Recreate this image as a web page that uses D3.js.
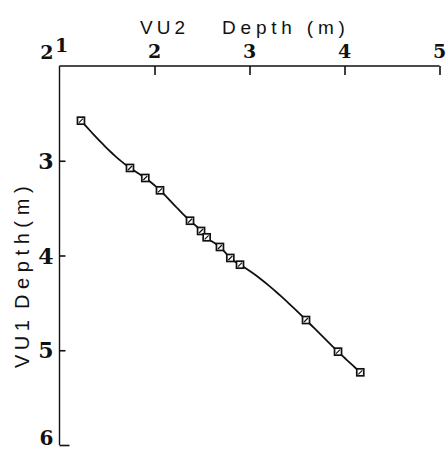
<!DOCTYPE html>
<html>
<head>
<meta charset="utf-8">
<script src="https://cdn.jsdelivr.net/npm/d3@7"></script>
<style>
  html, body { margin: 0; padding: 0; background: #fff; }
  svg { display: block; }
</style>
</head>
<body>
<svg id="chart" width="447" height="450"></svg>
<script>
// Depth at VU2 (horizontal) against depth at VU1 (vertical), metres
const vu2Depth = [1.226, 1.742, 1.903, 2.058, 2.374, 2.49, 2.549, 2.689, 2.798, 2.9, 3.595, 3.932, 4.166];
const vu1Depth = [2.577, 3.076, 3.182, 3.312, 3.633, 3.741, 3.808, 3.91, 4.026, 4.097, 4.681, 5.015, 5.233];
const xTicks = [1, 2, 3, 4, 5];
const yTicks = [2, 3, 4, 5, 6];
const xTitle = ["VU2", "Depth (m)"];
const yTitle = ["VU1", "Depth(m)"];

const svg = d3.select("#chart");
const x = d3.scaleLinear().domain([1, 5]).range([59.5, 439.5]);
const y = d3.scaleLinear().domain([2, 6]).range([66, 445]);

const ink = "#111";
const tickFont = "'DejaVu Serif', serif";
const titleFont = "'Liberation Sans', Arial, sans-serif";

// top axis: line, ticks pointing into the plot, bold numerals above
const xAxis = d3.axisBottom(x).tickValues(xTicks.slice(1)).tickSize(9).tickFormat("");
svg.append("g").attr("transform", `translate(0,${y(2)})`).call(xAxis)
  .call(g => g.select(".domain").attr("d", `M${x(1)},0H${x(5)}`).attr("stroke", ink).attr("stroke-width", 1.4))
  .call(g => g.selectAll(".tick line").attr("stroke", ink).attr("stroke-width", 1.6));

svg.append("g").selectAll("text").data(xTicks).join("text")
  .attr("x", d => x(d) + (d === 1 ? 2 : 0))
  .attr("y", d => d === 1 ? y(2) - 14 : y(2) - 8)
  .attr("text-anchor", "middle")
  .attr("font-family", tickFont).attr("font-weight", "bold").attr("font-size", 19)
  .attr("fill", ink)
  .text(d => d);

// left axis: line, short ticks pointing into the plot, bold numerals at left
const yAxis = d3.axisRight(y).tickValues(yTicks.slice(1)).tickSize(6).tickFormat("");
svg.append("g").attr("transform", `translate(${x(1)},0)`).call(yAxis)
  .call(g => g.select(".domain").attr("d", `M0,${y(2)}V${y(6)}`).attr("stroke", ink).attr("stroke-width", 1.4))
  .call(g => g.selectAll(".tick line").attr("stroke", ink).attr("stroke-width", 1.6))
  .call(g => g.selectAll(".tick").filter(d => d === 6).select("line").attr("x2", 10));

svg.append("g").selectAll("text").data(yTicks).join("text")
  .attr("x", x(1) - 6)
  .attr("y", d => d === 2 ? y(2) - 7 : d === 6 ? 445 : y(d) + 8)
  .attr("text-anchor", "end")
  .attr("font-family", tickFont).attr("font-weight", "bold")
  .attr("font-size", d => d === 2 ? 19 : d === 6 ? 20 : 22)
  .attr("fill", ink)
  .text(d => d);

// axis titles
const tTop = svg.append("text").attr("y", 34)
  .attr("font-family", titleFont).attr("font-size", 19).attr("fill", ink);
tTop.append("tspan").attr("x", 140).attr("letter-spacing", 4).text(xTitle[0]);
tTop.append("tspan").attr("x", 222).attr("letter-spacing", 4.8).text(xTitle[1]);

const tLeft = svg.append("text").attr("transform", "translate(29,0) rotate(-90)")
  .attr("font-family", titleFont).attr("font-size", 20).attr("fill", ink);
tLeft.append("tspan").attr("x", -368).attr("letter-spacing", 4.5).text(yTitle[0]);
tLeft.append("tspan").attr("x", -309).attr("letter-spacing", 5.6).text(yTitle[1]);

// smooth curve: natural cubic spline of VU1 depth as a function of VU2 depth
function naturalSpline(xs, ys) {
  const n = xs.length, h = [], a = [], b = [], c = [], r = [];
  for (let i = 0; i < n - 1; i++) h.push(xs[i + 1] - xs[i]);
  const M = new Array(n).fill(0);
  for (let i = 1; i < n - 1; i++) {
    a[i] = h[i - 1]; b[i] = 2 * (h[i - 1] + h[i]); c[i] = h[i];
    r[i] = 6 * ((ys[i + 1] - ys[i]) / h[i] - (ys[i] - ys[i - 1]) / h[i - 1]);
  }
  // Thomas algorithm for the interior second derivatives
  for (let i = 2; i < n - 1; i++) {
    const w = a[i] / b[i - 1];
    b[i] -= w * c[i - 1];
    r[i] -= w * r[i - 1];
  }
  for (let i = n - 2; i >= 1; i--) {
    M[i] = (r[i] - (i < n - 2 ? c[i] * M[i + 1] : 0)) / b[i];
  }
  const out = [];
  for (let i = 0; i < n - 1; i++) {
    const steps = 16;
    for (let s = 0; s <= steps; s++) {
      if (i > 0 && s === 0) continue;
      const t = xs[i] + h[i] * s / steps;
      const A = (xs[i + 1] - t) / h[i], B = (t - xs[i]) / h[i];
      const v = A * ys[i] + B * ys[i + 1] +
        ((A * A * A - A) * M[i] + (B * B * B - B) * M[i + 1]) * h[i] * h[i] / 6;
      out.push([t, v]);
    }
  }
  return out;
}

const curve = naturalSpline(vu2Depth, vu1Depth);
const line = d3.line().x(d => x(d[0])).y(d => y(d[1]));
svg.append("path").datum(curve).attr("d", line)
  .attr("fill", "none").attr("stroke", ink).attr("stroke-width", 1.8)
  .attr("stroke-linejoin", "round");

// observation markers: small boxed crosses
const pts = vu2Depth.map((v, i) => [v, vu1Depth[i]]);
const m = svg.append("g").selectAll("g").data(pts).join("g")
  .attr("transform", d => `translate(${x(d[0])},${y(d[1])})`);
m.append("rect").attr("x", -3.5).attr("y", -3.5).attr("width", 7).attr("height", 7)
  .attr("fill", "#fff").attr("stroke", ink).attr("stroke-width", 1.7);
m.append("path").attr("d", "M-2,2L2,-2").attr("stroke", ink).attr("stroke-width", 1.2);
</script>
</body>
</html>
